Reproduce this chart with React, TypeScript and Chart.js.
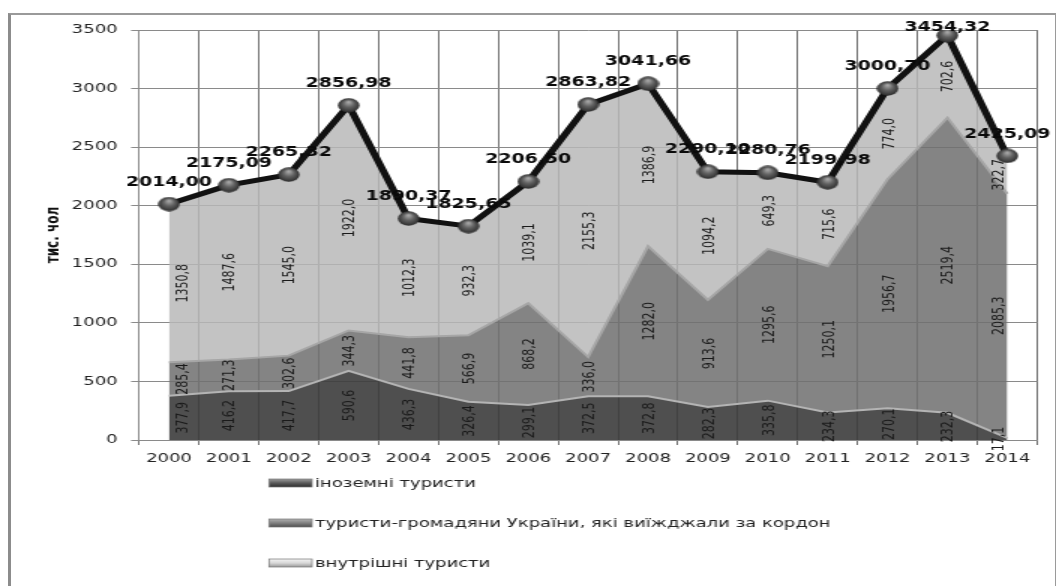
import React, { useEffect, useRef } from 'react';
import { Chart, registerables } from 'chart.js';

Chart.register(...registerables);

// ---- data ----
const years = ['2000', '2001', '2002', '2003', '2004', '2005', '2006', '2007', '2008', '2009', '2010', '2011', '2012', '2013', '2014'];
const foreignTourists = [377.9, 416.2, 417.7, 590.6, 436.3, 326.4, 299.1, 372.5, 372.8, 282.3, 335.8, 234.3, 270.1, 232.3, 17.1];
const outboundTourists = [285.4, 271.3, 302.6, 344.3, 441.8, 566.9, 868.2, 336.0, 1282.0, 913.6, 1295.6, 1250.1, 1956.7, 2519.4, 2085.3];
const domesticTourists = [1350.8, 1487.6, 1545.0, 1922.0, 1012.3, 932.3, 1039.1, 2155.3, 1386.9, 1094.2, 649.3, 715.6, 774.0, 702.6, 322.7];
const totalTourists = [2014.0, 2175.09, 2265.32, 2856.98, 1890.37, 1825.65, 2206.5, 2863.82, 3041.66, 2290.1, 2280.76, 2199.98, 3000.7, 3454.32, 2425.09];
const seriesNames = ['іноземні туристи', 'туристи-громадяни України, які виїжджали за кордон', 'внутрішні туристи'];
const yAxisTitle = 'тис. чол';
const yMin = 0;
const yMax = 3500;
const yStep = 500;

// canvas is drawn narrow and stretched 1.5x horizontally, like the reference
const CW = 704;
const CH = 586;

function comma(v: number, d: number) {
  return v.toFixed(d).replace('.', ',');
}

function makeSphere() {
  const s = 15;
  const c = document.createElement('canvas');
  c.width = s;
  c.height = s;
  const g = c.getContext('2d')!;
  const grad = g.createRadialGradient(s * 0.5, s * 0.28, 0.5, s / 2, s / 2, s / 2);
  grad.addColorStop(0, '#a8a8a8');
  grad.addColorStop(0.45, '#626262');
  grad.addColorStop(1, '#2a2a2a');
  g.fillStyle = grad;
  g.beginPath();
  g.arc(s / 2, s / 2, s / 2 - 0.3, 0, Math.PI * 2);
  g.fill();
  return c;
}

const labelsPlugin = {
  id: 'valueLabels',
  afterDatasetsDraw(chart: any) {
    const ctx = chart.ctx;
    const y = chart.scales.y;
    const layers = [foreignTourists, outboundTourists, domesticTourists];
    const meta0 = chart.getDatasetMeta(0);
    ctx.save();
    ctx.fillStyle = '#1a1a1a';
    ctx.textAlign = 'center';
    ctx.textBaseline = 'middle';
    ctx.font = '11px "DejaVu Sans", sans-serif';
    const n = years.length;
    for (let i = 0; i < n; i++) {
      let base = 0;
      const px = meta0.data[i].x;
      const dx = i === 0 ? 9 : i === n - 1 ? -5 : 1;
      for (let s = 0; s < layers.length; s++) {
        const v = layers[s][i];
        const yb = y.getPixelForValue(base);
        const yt = y.getPixelForValue(base + v);
        base += v;
        ctx.save();
        ctx.translate(px + dx, (yb + yt) / 2);
        ctx.rotate(-Math.PI / 2);
        ctx.fillText(comma(v, 1), 0, 0);
        ctx.restore();
      }
    }
    // total labels
    const metaT = chart.getDatasetMeta(3);
    ctx.font = 'bold 14px "DejaVu Sans Condensed", "DejaVu Sans", sans-serif';
    ctx.fillStyle = '#0a0a0a';
    for (let i = 0; i < n; i++) {
      const p = metaT.data[i];
      const ty = Math.max(p.y - 22, 27);
      ctx.fillText(comma(totalTourists[i], 2), p.x, ty);
    }
    ctx.restore();
  },
  afterDraw(chart: any) {
    const ctx = chart.ctx;
    ctx.save();
    const rows = [483, 523, 563];
    const swatches = [
      ['#9a9a9a', '#5a5a5a', '#2e2e2e'],
      ['#b0b0b0', '#808080', '#4e4e4e'],
      ['#f4f4f4', '#d8d8d8', '#9a9a9a'],
    ];
    const sx = 179.3;
    const sw = 28.7;
    for (let k = 0; k < 3; k++) {
      const cy = rows[k];
      const g = ctx.createLinearGradient(0, cy - 4, 0, cy + 4);
      g.addColorStop(0, swatches[k][0]);
      g.addColorStop(0.5, swatches[k][1]);
      g.addColorStop(1, swatches[k][2]);
      ctx.fillStyle = g;
      ctx.fillRect(sx, cy - 4, sw, 8);
      ctx.strokeStyle = '#777';
      ctx.lineWidth = 0.7;
      ctx.strokeRect(sx, cy - 4, sw, 8);
      ctx.fillStyle = '#222';
      ctx.font = '12px "DejaVu Sans", sans-serif';
      ctx.textAlign = 'left';
      ctx.textBaseline = 'middle';
      ctx.fillText(seriesNames[k], sx + sw + 2, cy + 1);
    }
    ctx.restore();
  },
};

export default function App() {
  const ref = useRef<HTMLCanvasElement | null>(null);

  useEffect(() => {
    if (!ref.current) return;
    const sphere = makeSphere();
    const chart = new Chart(ref.current, {
      type: 'line',
      data: {
        labels: years,
        datasets: [
          {
            label: seriesNames[0],
            data: foreignTourists,
            fill: 'origin',
            backgroundColor: 'rgba(60,60,60,0.9)',
            borderColor: '#b4b4b4',
            borderWidth: 2,
            pointRadius: 0,
            stack: 'layers',
            tension: 0,
          },
          {
            label: seriesNames[1],
            data: outboundTourists,
            fill: '-1',
            backgroundColor: 'rgba(112,112,112,0.86)',
            borderColor: '#a6a6a6',
            borderWidth: 2,
            pointRadius: 0,
            stack: 'layers',
            tension: 0,
          },
          {
            label: seriesNames[2],
            data: domesticTourists,
            fill: '-1',
            backgroundColor: 'rgba(184,184,184,0.84)',
            borderColor: 'rgba(0,0,0,0)',
            borderWidth: 0,
            pointRadius: 0,
            stack: 'layers',
            tension: 0,
          },
          {
            label: 'total',
            data: totalTourists,
            fill: false,
            borderColor: '#111',
            borderWidth: 5,
            pointStyle: sphere as any,
            pointRadius: 7.5,
            stack: 'total',
            order: -1,
            tension: 0,
          },
        ],
      },
      options: {
        responsive: false,
        devicePixelRatio: 1,
        animation: false,
        layout: { padding: { left: 28.7, right: 7.3, top: 30, bottom: 106 } },
        plugins: {
          legend: { display: false },
          tooltip: { enabled: false },
        },
        scales: {
          x: {
            type: 'category',
            offset: true,
            grid: { offset: true, color: '#727272', lineWidth: 1, tickLength: 5 },
            border: { color: '#8a8a8a' },
            ticks: {
              color: '#222',
              padding: 7,
              maxRotation: 0,
              autoSkip: false,
              font: { family: '"DejaVu Sans", sans-serif', size: 12 },
            },
            afterFit(scale: any) {
              scale.height = 40;
            },
          },
          y: {
            stacked: true,
            min: yMin,
            max: yMax,
            ticks: {
              stepSize: yStep,
              color: '#222',
              padding: 9,
              font: { family: '"DejaVu Sans", sans-serif', size: 12 },
              callback: (v: any) => String(v),
            },
            grid: { color: '#8a8a8a', lineWidth: 1, tickLength: 5.3 },
            border: { color: '#8a8a8a' },
            title: {
              display: true,
              text: yAxisTitle,
              color: '#111',
              padding: 0,
              font: { family: '"DejaVu Sans", sans-serif', size: 12, weight: 'bold' },
            },
            afterFit(scale: any) {
              scale.width = 64;
            },
          },
        },
      },
      plugins: [labelsPlugin],
    });
    return () => chart.destroy();
  }, []);

  return (
    <div style={{ position: 'absolute', left: 0, top: 0, width: 1056, height: 586, overflow: 'hidden', background: '#fff' }}>
      <div
        style={{
          position: 'absolute',
          left: 8,
          top: 13,
          width: 1048,
          height: 573,
          boxSizing: 'border-box',
          borderLeft: '3px solid #8c8c8c',
          borderTop: '2px solid #9a9a9a',
          borderRight: '1px solid #9a9a9a',
        }}
      />
      <canvas
        ref={ref}
        width={CW}
        height={CH}
        style={{ position: 'absolute', left: 0, top: 0, width: '1056px', height: '586px', display: 'block' }}
      />
    </div>
  );
}
